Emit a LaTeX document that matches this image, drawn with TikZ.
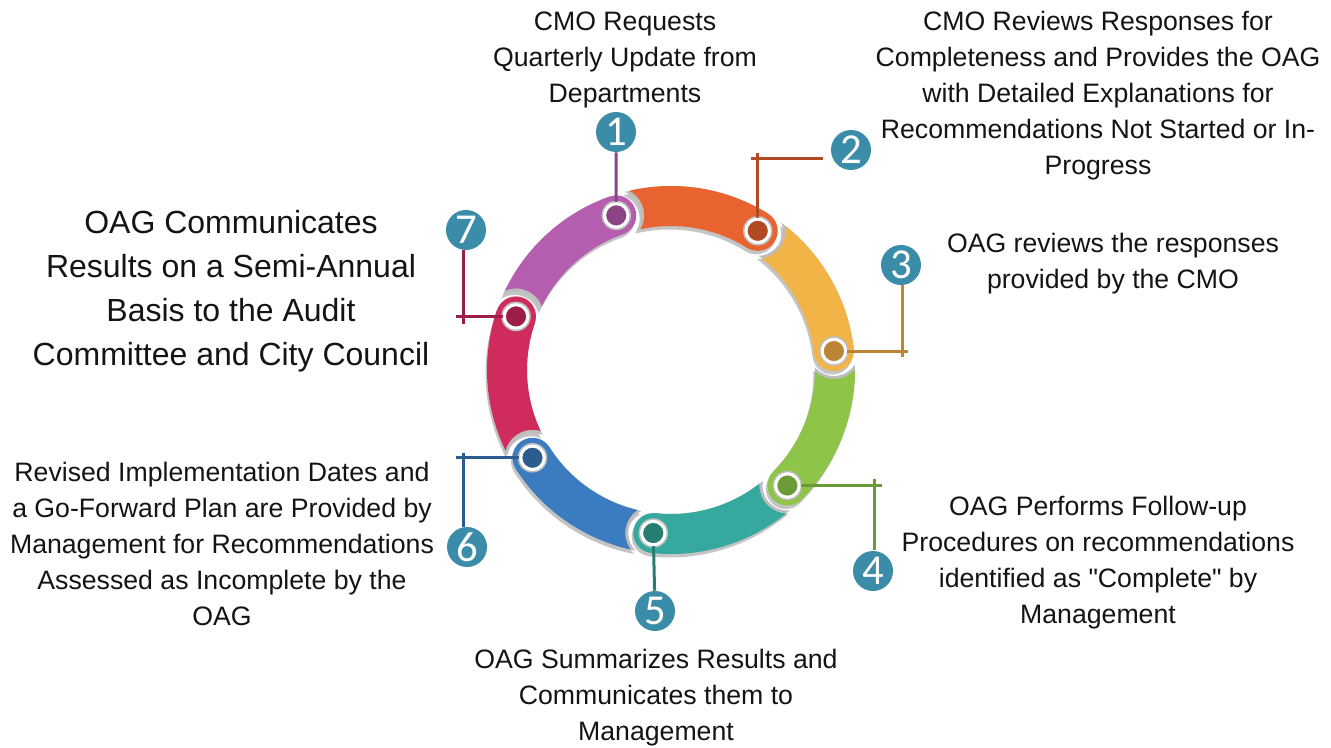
\documentclass[tikz,border=0pt]{standalone}
\usepackage{fontspec}
\setmainfont{Liberation Sans}[Ligatures=TeXOff]
\newfontfamily\numfont{Carlito}
\usetikzlibrary{calc}
\definecolor{segA}{HTML}{B55DAE}\definecolor{darkA}{HTML}{8C4485}
\definecolor{segB}{HTML}{E8632F}\definecolor{darkB}{HTML}{B04A24}
\definecolor{segC}{HTML}{F3B447}\definecolor{darkC}{HTML}{BB8534}
\definecolor{segD}{HTML}{8EC448}\definecolor{darkD}{HTML}{6B9B36}
\definecolor{segE}{HTML}{35A99D}\definecolor{darkE}{HTML}{267E71}
\definecolor{segF}{HTML}{3A7CBF}\definecolor{darkF}{HTML}{2A5C8E}
\definecolor{segG}{HTML}{CF2B5C}\definecolor{darkG}{HTML}{9C1D45}
\definecolor{badgecol}{HTML}{3A8CA9}
\definecolor{shadowgray}{HTML}{C4C4C4}
\definecolor{notchgray}{HTML}{BDBDBD}
\definecolor{txt}{HTML}{141414}
\tikzset{
  lbl/.style={anchor=north, align=center, inner sep=0pt, text=txt, font=\fontsize{20}{27}\selectfont},
  biglbl/.style={anchor=north, align=center, inner sep=0pt, text=txt, font=\fontsize{24}{33}\selectfont},
  badge/.style={circle, fill=badgecol, inner sep=0pt, minimum size=30pt, text=white, font=\numfont\fontsize{32}{32}\selectfont},
  dotnode/.style={circle, inner sep=0pt, minimum size=17.5pt, draw=white, line width=2.2pt},
  conn/.style={line width=2.25pt}
}
\begin{document}
\begin{tikzpicture}[x=0.75pt,y=0.75pt]
\useasboundingbox (0,0) rectangle (1331,747);
\begin{scope}[shift={(671,377)}]
  % drop shadows
  \foreach \a in {109.5,58.07,6.64,-44.79,-96.21,-147.64,160.93}{
    \pgfmathsetmacro\b{\a+51.43}
    \begin{scope}[shift={(-1.5,-3.5)}]
      \begin{scope}[even odd rule]
        \clip (-320,-320) rectangle (320,320) (\b:164) circle (25);
        \fill[shadowgray] (\a:184) arc (\a:\b:184) -- (\b:144) arc (\b:\a:144) -- cycle;
      \end{scope}
      \fill[shadowgray] (\a:164) circle (20);
    \end{scope}
  }
  % coloured segments
  \foreach \a/\col in {109.5/segA,58.07/segB,6.64/segC,-44.79/segD,-96.21/segE,-147.64/segF,160.93/segG}{
    \pgfmathsetmacro\b{\a+51.43}
    \begin{scope}[even odd rule]
      \clip (-320,-320) rectangle (320,320) (\b:164) circle (25);
      \fill[notchgray] (\a:184) arc (\a:\b:184) -- (\b:144) arc (\b:\a:144) -- cycle;
    \end{scope}
    \begin{scope}[even odd rule]
      \clip (-320,-320) rectangle (320,320) (\b:164) circle (28);
      \fill[\col] (\a:184) arc (\a:\b:184) -- (\b:144) arc (\b:\a:144) -- cycle;
    \end{scope}
    \fill[\col] (\a:164) circle (20);
    \fill[notchgray] (\a:164) circle (14.8);
  }
  % dots
  \node[dotnode, fill=darkA] (p1) at (109.5:164) {};
  \node[dotnode, fill=darkB] (p2) at (58.07:164) {};
  \node[dotnode, fill=darkC] (p3) at (6.64:164) {};
  \node[dotnode, fill=darkD] (p4) at (-44.79:164) {};
  \node[dotnode, fill=darkE] (p5) at (-96.21:164) {};
  \node[dotnode, fill=darkF] (p6) at (-147.64:164) {};
  \node[dotnode, fill=darkG] (p7) at (160.93:164) {};
\end{scope}

% badges
\node[badge] (n1) at (616,615) {1};
\node[badge] (n2) at (851,597) {2};
\node[badge] (n3) at (901,482) {3};
\node[badge] (n4) at (873,176) {4};
\node[badge] (n5) at (655,136) {5};
\node[badge] (n6) at (467,200) {6};
\node[badge] (n7) at (466,517) {7};

% connector helper points
\coordinate (v2) at (p2 |- 0,594);
\coordinate (h2a) at (751,588);
\coordinate (h2b) at (823,588);
\coordinate (h3) at (908,396);
\coordinate (v3a) at (902,390);
\coordinate (v3b) at (902,462);
\coordinate (h4) at (882,261);
\coordinate (v4a) at (874,268);
\coordinate (v4b) at (874,197);
\coordinate (h6) at (456,287);
\coordinate (v6a) at (463,294);
\coordinate (v6b) at (463,220);
\coordinate (h7) at (456,430);
\coordinate (v7a) at (463,423);
\coordinate (v7b) at (463,497);

% connectors
\draw[conn, darkA] (n1) -- (p1);
\draw[conn, darkB] (p2) -- (v2);
\draw[conn, darkB] (h2a) -- (h2b);
\draw[conn, darkC] (p3) -- (p3 -| h3);
\draw[conn, darkC] (v3a) -- (v3b);
\draw[conn, darkD] (p4) -- (p4 -| h4);
\draw[conn, darkD] (v4a) -- (v4b);
\draw[conn, darkE] (p5) -- (n5);
\draw[conn, darkF] (p6) -- (p6 -| h6);
\draw[conn, darkF] (v6a) -- (v6b);
\draw[conn, darkG] (p7) -- (p7 -| h7);
\draw[conn, darkG] (v7a) -- (v7b);
% redraw dots on top of connector ends
\foreach \p/\c in {p1/darkA,p2/darkB,p3/darkC,p4/darkD,p5/darkE,p6/darkF,p7/darkG}{
  \node[dotnode, fill=\c] at (\p) {};
}

% labels
\node[lbl] (t1) at (625,735) {CMO Requests\\Quarterly Update from\\Departments};
\node[lbl] (t2) at (1098,736) {CMO Reviews Responses for\\Completeness and Provides the OAG\\with Detailed Explanations for\\Recommendations Not Started or In-\\Progress};
\node[lbl] (t3) at (1113,514) {OAG reviews the responses\\provided by the CMO};
\node[lbl] (t4) at (1098,251) {OAG Performs Follow-up\\Procedures on recommendations\\identified as "Complete" by\\Management};
\node[lbl] (t5) at (656,98) {OAG Summarizes Results and\\Communicates them to\\Management};
\node[lbl] (t6) at (222,285) {Revised Implementation Dates and\\a Go-Forward Plan are Provided by\\Management for Recommendations\\Assessed as Incomplete by the\\OAG};
\node[biglbl] (t7) at (231,537) {OAG Communicates\\Results on a Semi-Annual\\Basis to the Audit\\Committee and City Council};
\end{tikzpicture}
\end{document}
